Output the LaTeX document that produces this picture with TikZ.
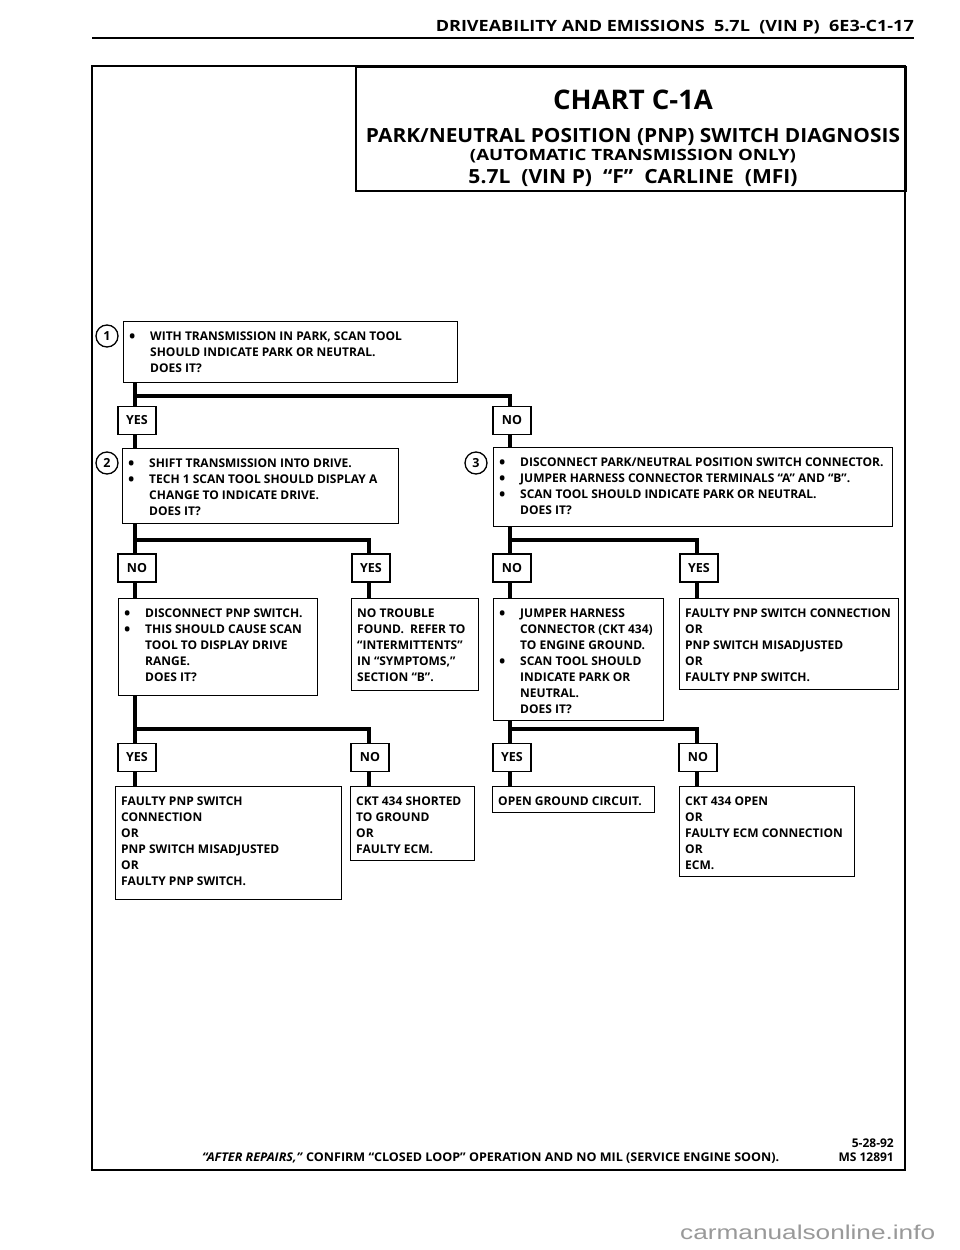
\documentclass[tikz,border=0pt]{standalone}
\usepackage{fontspec}
\setmainfont{Open Sans}
\newfontfamily\wmfont{Liberation Sans}
\usepackage{graphicx}
\newcommand{\fitw}[2]{\resizebox{#1}{\height}{#2}}
\newcommand{\bl}{\makebox[21pt][l]{\raisebox{-1.6pt}{\scalebox{1.4}{•}}}}
\newcommand{\ind}{\hspace*{21pt}}
\begin{document}
\begin{tikzpicture}[x=1pt,y=-1pt,line join=miter,
  every node/.style={font=\bfseries},
  cbox/.style={draw,line width=1.3pt,rectangle,anchor=north west,inner sep=0pt},
  txt/.style={anchor=north west,align=left,inner sep=0pt,xshift=6pt,yshift=-11pt,font=\bfseries\fontsize{12}{16}\selectfont},
  lbl/.style={draw,line width=1.3pt,rectangle,minimum width=38pt,minimum height=28pt,inner sep=0pt,fill=white,font=\bfseries\fontsize{12.5}{14}\selectfont},
  conn/.style={line width=4pt},
  num/.style={draw,circle,line width=1.3pt,minimum size=22pt,inner sep=0pt,font=\bfseries\fontsize{12.5}{14}\selectfont},
  outerframe/.style={line width=2.4pt},
  ttl/.style={anchor=base,inner sep=0pt}
]
\useasboundingbox (0,0) rectangle (960,1250);
\fill[white] (0,0) rectangle (960,1250);

% header
\node[anchor=base east,inner sep=0pt] (hdr) at (914,31)
  {\fitw{478pt}{\fontsize{15.5}{18}\selectfont DRIVEABILITY AND EMISSIONS\ \ 5.7L\ \ (VIN P)\ \ 6E3-C1-17}};
\draw[line width=2.4pt] (92,38) -- (914,38);

% frame and title box
\draw[outerframe] (92,66) rectangle (905,1170);
\node[draw,line width=1.5pt,rectangle,anchor=north west,minimum width=550pt,minimum height=124pt,inner sep=0pt] (tbox) at (355,66) {};
\node[ttl] (t1) at (633,109.5) {\fitw{160pt}{\fontsize{27}{30}\selectfont CHART C-1A}};
\node[ttl] (t2) at (633,142) {\fitw{534pt}{\fontsize{19.5}{22}\selectfont PARK/NEUTRAL POSITION (PNP) SWITCH DIAGNOSIS}};
\node[ttl] (t3) at (633,160.5) {\fitw{326pt}{\fontsize{15.5}{18}\selectfont (AUTOMATIC TRANSMISSION ONLY)}};
\node[ttl] (t4) at (633,183) {\fitw{329pt}{\fontsize{19.5}{22}\selectfont 5.7L\ \ (VIN P)\ \ “F”\ \ CARLINE\ \ (MFI)}};

% content boxes
\node[cbox,minimum width=334pt,minimum height=61pt] (b1) at (123,321) {};
\node[txt] (b1t) at (b1.north west) {\bl WITH TRANSMISSION IN PARK,\ SCAN TOOL\\ \ind SHOULD INDICATE PARK OR NEUTRAL.\\ \ind DOES IT?};

\node[cbox,minimum width=276pt,minimum height=75pt] (b2) at (122,448) {};
\node[txt] (b2t) at (b2.north west) {\bl SHIFT TRANSMISSION INTO DRIVE.\\ \bl TECH 1 SCAN TOOL SHOULD DISPLAY A\\ \ind CHANGE TO INDICATE DRIVE.\\ \ind DOES IT?};

\node[cbox,minimum width=399pt,minimum height=79pt] (b3) at (493,447) {};
\node[txt] (b3t) at (b3.north west) {\bl DISCONNECT PARK/NEUTRAL POSITION SWITCH CONNECTOR.\\ \bl JUMPER HARNESS CONNECTOR TERMINALS “A” AND “B”.\\ \bl SCAN TOOL SHOULD INDICATE PARK OR NEUTRAL.\\ \ind DOES IT?};

\node[cbox,minimum width=199pt,minimum height=97pt] (b4) at (118,598) {};
\node[txt] (b4t) at (b4.north west) {\bl DISCONNECT PNP SWITCH.\\ \bl THIS SHOULD CAUSE SCAN\\ \ind TOOL TO DISPLAY DRIVE\\ \ind RANGE.\\ \ind DOES IT?};

\node[cbox,minimum width=127pt,minimum height=92pt] (b5) at (351,598) {};
\node[txt] (b5t) at (b5.north west) {NO TROUBLE\\ FOUND.\ \ REFER TO\\ “INTERMITTENTS”\\ IN “SYMPTOMS,”\\ SECTION “B”.};

\node[cbox,minimum width=170pt,minimum height=122pt] (b6) at (493,598) {};
\node[txt] (b6t) at (b6.north west) {\bl JUMPER HARNESS\\ \ind CONNECTOR (CKT 434)\\ \ind TO ENGINE GROUND.\\ \bl SCAN TOOL SHOULD\\ \ind INDICATE PARK OR\\ \ind NEUTRAL.\\ \ind DOES IT?};

\node[cbox,minimum width=219pt,minimum height=91pt] (b7) at (679,598) {};
\node[txt] (b7t) at (b7.north west) {FAULTY PNP SWITCH CONNECTION\\ OR\\ PNP SWITCH MISADJUSTED\\ OR\\ FAULTY PNP SWITCH.};

\node[cbox,minimum width=226pt,minimum height=113pt] (b8) at (115,786) {};
\node[txt] (b8t) at (b8.north west) {FAULTY PNP SWITCH\\ CONNECTION\\ OR\\ PNP SWITCH MISADJUSTED\\ OR\\ FAULTY PNP SWITCH.};

\node[cbox,minimum width=124pt,minimum height=74pt] (b9) at (350,786) {};
\node[txt] (b9t) at (b9.north west) {CKT 434 SHORTED\\ TO GROUND\\ OR\\ FAULTY ECM.};

\node[cbox,minimum width=162pt,minimum height=26pt] (b10) at (492,786) {};
\node[txt] (b10t) at (b10.north west) {OPEN GROUND CIRCUIT.};

\node[cbox,minimum width=175pt,minimum height=90pt] (b11) at (679,786) {};
\node[txt] (b11t) at (b11.north west) {CKT 434 OPEN\\ OR\\ FAULTY ECM CONNECTION\\ OR\\ ECM.};

% step numbers
\node[num] (n1) at (107,336) {1};
\node[num] (n2) at (107,463) {2};
\node[num] (n3) at (476,463) {3};

% junction points
\coordinate (j1) at (135,396);  \coordinate (j1r) at (510,396);
\coordinate (j2) at (135,540);  \coordinate (j2r) at (369,540);
\coordinate (j3) at (510,540);  \coordinate (j3r) at (697,540);
\coordinate (j4) at (135,729);  \coordinate (j4r) at (369,729);
\coordinate (j5) at (510,729);  \coordinate (j5r) at (697,729);

% connectors
\draw[conn] (b1.south -| j1) -- (j1) -- (j1r) -- (j1r |- b3.north);
\draw[conn] (j1) -- (j1 |- b2.north);
\draw[conn] (b2.south -| j2) -- (j2) -- (j2r) -- (j2r |- b5.north);
\draw[conn] (j2) -- (j2 |- b4.north);
\draw[conn] (b3.south -| j3) -- (j3) -- (j3r) -- (j3r |- b7.north);
\draw[conn] (j3) -- (j3 |- b6.north);
\draw[conn] (b4.south -| j4) -- (j4) -- (j4r) -- (j4r |- b9.north);
\draw[conn] (j4) -- (j4 |- b8.north);
\draw[conn] (b6.south -| j5) -- (j5) -- (j5r) -- (j5r |- b11.north);
\draw[conn] (j5) -- (j5 |- b10.north);

% YES / NO labels
\node[lbl] (l1y) at (137,420.5) {YES};
\node[lbl] (l1n) at (512,420.5) {NO};
\node[lbl] (l2n) at (137,568) {NO};
\node[lbl] (l2y) at (371,568) {YES};
\node[lbl] (l3n) at (512,568) {NO};
\node[lbl] (l3y) at (699,568) {YES};
\node[lbl] (l4y) at (137,757.5) {YES};
\node[lbl] (l4n) at (370,757.5) {NO};
\node[lbl] (l5y) at (512,757.5) {YES};
\node[lbl] (l5n) at (698,757.5) {NO};

% footer
\node[anchor=base west,inner sep=0pt] (foot) at (202,1161)
  {\fitw{577pt}{\fontsize{12}{14}\selectfont\textit{“AFTER REPAIRS,”} CONFIRM “CLOSED LOOP” OPERATION AND NO MIL (SERVICE ENGINE SOON).}};
\node[anchor=base east,inner sep=0pt,font=\bfseries\fontsize{12}{14}\selectfont] (date) at (894,1147) {5-28-92};
\node[anchor=base east,inner sep=0pt,font=\bfseries\fontsize{12}{14}\selectfont] (ms) at (894,1161) {MS 12891};

% watermark
\node[anchor=base west,inner sep=0pt,text=black!40] (wm) at (680,1239)
  {\fitw{255pt}{\wmfont\mdseries\fontsize{20}{24}\selectfont carmanualsonline.info}};
\end{tikzpicture}
\end{document}
